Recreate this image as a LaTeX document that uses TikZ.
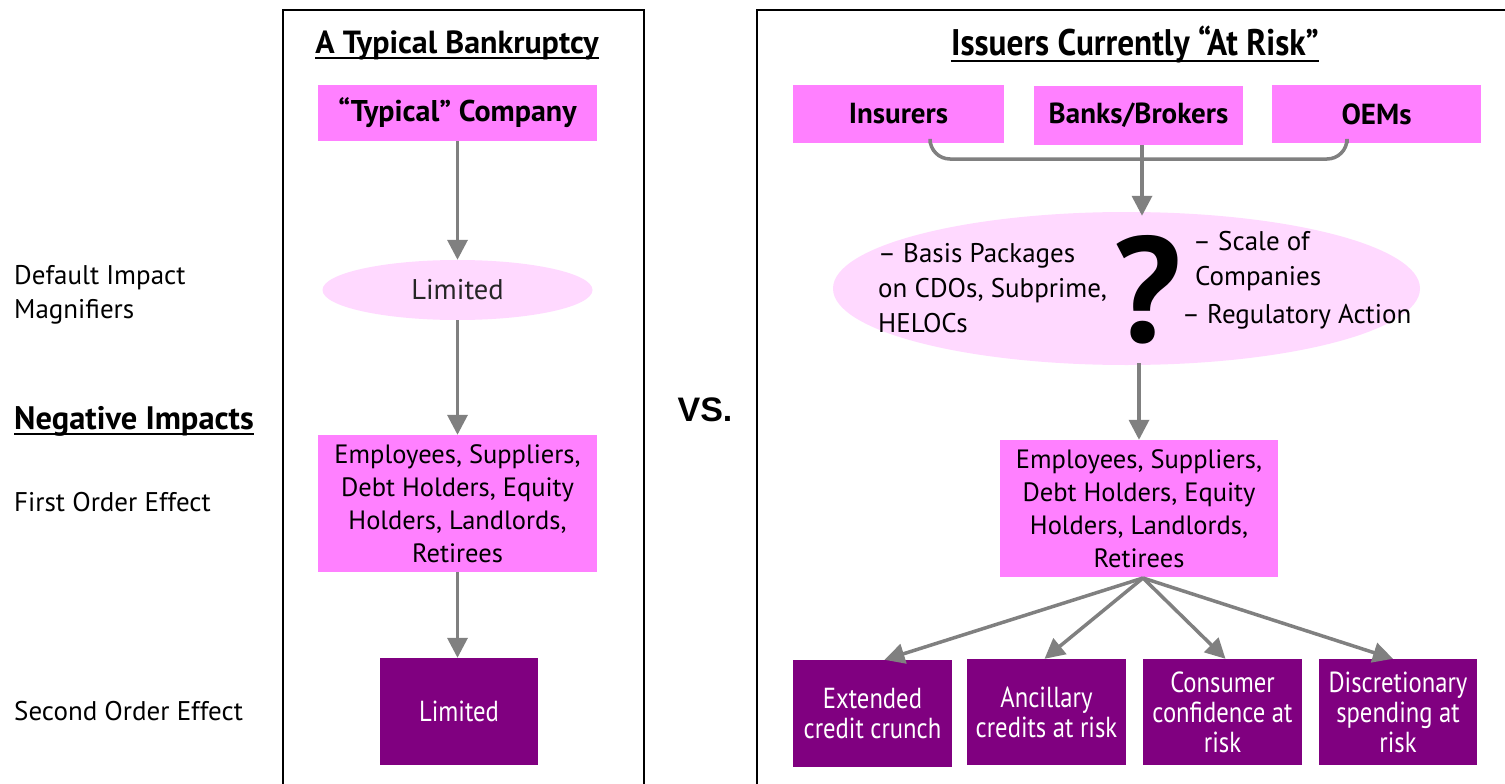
\documentclass[tikz,border=0pt]{standalone}
\usepackage{fontspec}
\setmainfont{PT Sans}
\newfontfamily\condfont[FakeStretch=0.85]{PT Sans}
\newfontfamily\titlecond[FakeStretch=0.9]{PT Sans}
\newfontfamily\vsfont{Liberation Sans}
\usetikzlibrary{arrows.meta,shapes.geometric}
\definecolor{boxpink}{HTML}{FF80FF}
\definecolor{lightpink}{HTML}{FFD9FF}
\definecolor{deeppurple}{HTML}{800080}
\definecolor{arrowgray}{HTML}{808080}
\tikzset{
  pinkbox/.style={fill=boxpink, inner sep=0pt, align=center, font=\fontsize{26.5}{33}\selectfont},
  boldpink/.style={pinkbox, font=\bfseries\fontsize{29}{32}\selectfont},
  purplebox/.style={fill=deeppurple, text=white, inner sep=0pt, align=center, font=\condfont\fontsize{29}{30}\selectfont},
  softell/.style={ellipse, fill=lightpink, inner sep=0pt},
  arr/.style={draw=arrowgray, line width=3.5pt, -{Triangle[length=20pt,width=20pt]}},
  plainline/.style={draw=arrowgray, line width=3.5pt},
  frameline/.style={draw=black, line width=2.5pt},
  sidelabel/.style={anchor=west, inner sep=0pt, align=left, font=\fontsize{27}{34}\selectfont},
  titletext/.style={inner sep=0pt, font=\bfseries\fontsize{32}{34}\selectfont},
  ulinestyle/.style={draw=black, line width=2pt},
  ellipsetext/.style={anchor=west, inner sep=0pt, align=left, font=\fontsize{27}{35}\selectfont}
}
\begin{document}
\begin{tikzpicture}[x=1pt,y=-1pt]
\useasboundingbox[fill=white] (0,0) rectangle (1505,784);

% frames
\draw[frameline] (283,784) -- (283,10) -- (644,10) -- (644,784);
\draw[frameline] (757,784) -- (757,10) -- (1510,10);

% side labels
\node[sidelabel] (dim) at (14,295) {Default Impact\\Magnifiers};
\node[sidelabel, font=\bfseries\fontsize{32.5}{34}\selectfont] (neg) at (14,421) {Negative Impacts};
\draw[ulinestyle] ([yshift=-5pt]neg.base west) -- ([yshift=-5pt]neg.base east);
\node[sidelabel] (foe) at (14,502) {First Order Effect};
\node[sidelabel] (soe) at (14,711) {Second Order Effect};

% VS
\node[inner sep=0pt, font=\vsfont\bfseries\fontsize{34}{36}\selectfont] (vs) at (705,410) {VS.};

% left column
\node[titletext] (lt) at (457,45) {A Typical Bankruptcy};
\draw[ulinestyle] ([yshift=-5pt]lt.base west) -- ([yshift=-5pt]lt.base east);
\node[boldpink, minimum width=279pt, minimum height=56pt, font=\bfseries\fontsize{30}{32}\selectfont] (tc) at (457.5,113) {“Typical” Company};
\node[softell, minimum width=270pt, minimum height=60pt, font=\fontsize{28.5}{30}\selectfont, text=black!85] (lim) at (457.5,290) {Limited};
\node[pinkbox, minimum width=279pt, minimum height=137pt] (emp1) at (457.5,503.5) {Employees, Suppliers,\\Debt Holders, Equity\\Holders, Landlords,\\Retirees};
\node[purplebox, minimum width=158pt, minimum height=107pt] (lim2) at (459,711.5) {Limited};
\draw[arr] (tc.south) -- (lim.north);
\draw[arr] (lim.south) -- (emp1.north);
\draw[arr] (emp1.south) -- (emp1.south |- lim2.north);

% right column
\node[titletext, font=\titlecond\bfseries\fontsize{37}{38}\selectfont] (rt) at (1135,45) {Issuers Currently “At Risk”};
\draw[ulinestyle] ([yshift=-5pt]rt.base west) -- ([yshift=-5pt]rt.base east);
\node[boldpink, minimum width=211pt, minimum height=58pt] (ins) at (898.5,114) {Insurers};
\node[boldpink, minimum width=209pt, minimum height=59pt] (bank) at (1138.5,115.5) {Banks/Brokers};
\node[boldpink, minimum width=209pt, minimum height=58pt] (oem) at (1376.5,114) {OEMs};
\coordinate (brmid) at (1142,159);
\draw[plainline, rounded corners=20pt] ([xshift=31.5pt]ins.south) |- (brmid) -| ([xshift=-29.5pt]oem.south);

\node[softell, minimum width=587pt, minimum height=153pt] (risk) at (1126.5,288.5) {};
\draw[arr] ([xshift=3.5pt]bank.south) -- ([xshift=15.5pt,yshift=-4pt]risk.north);
\node[ellipsetext] (basis) at (878,288) {– Basis Packages\\on CDOs, Subprime,\\HELOCs};
\node[inner sep=0pt, font=\bfseries\fontsize{150}{150}\selectfont] (qm) at (1148,290) {?};
\node[ellipsetext] (scale) at (1193,261) {– Scale of\\\hspace*{2pt}Companies};
\node[ellipsetext] (reg) at (1182,317) {– Regulatory Action};

\node[pinkbox, minimum width=278pt, minimum height=137pt] (emp2) at (1139,508.5) {Employees, Suppliers,\\Debt Holders, Equity\\Holders, Landlords,\\Retirees};
\draw[arr] ([yshift=2pt]risk.south -| emp2.north) -- (emp2.north);

\node[purplebox, minimum width=159pt, minimum height=107pt] (ecc) at (872.5,713.5) {Extended\\credit crunch};
\node[purplebox, minimum width=159pt, minimum height=106pt] (acr) at (1046.5,712) {Ancillary\\credits at risk};
\node[purplebox, minimum width=159pt, minimum height=106pt] (ccr) at (1222.5,712) {Consumer\\confidence at\\risk};
\node[purplebox, minimum width=158pt, minimum height=106pt] (dsr) at (1398,712) {Discretionary\\spending at\\risk};
\coordinate (fan) at (1143,578);
\draw[arr] (fan) -- ([xshift=12pt]ecc.north);
\draw[arr] (fan) -- ([xshift=-2pt]acr.north);
\draw[arr] (fan) -- ([xshift=3pt]ccr.north);
\draw[arr] (fan) -- ([xshift=-5pt]dsr.north);
\end{tikzpicture}
\end{document}
